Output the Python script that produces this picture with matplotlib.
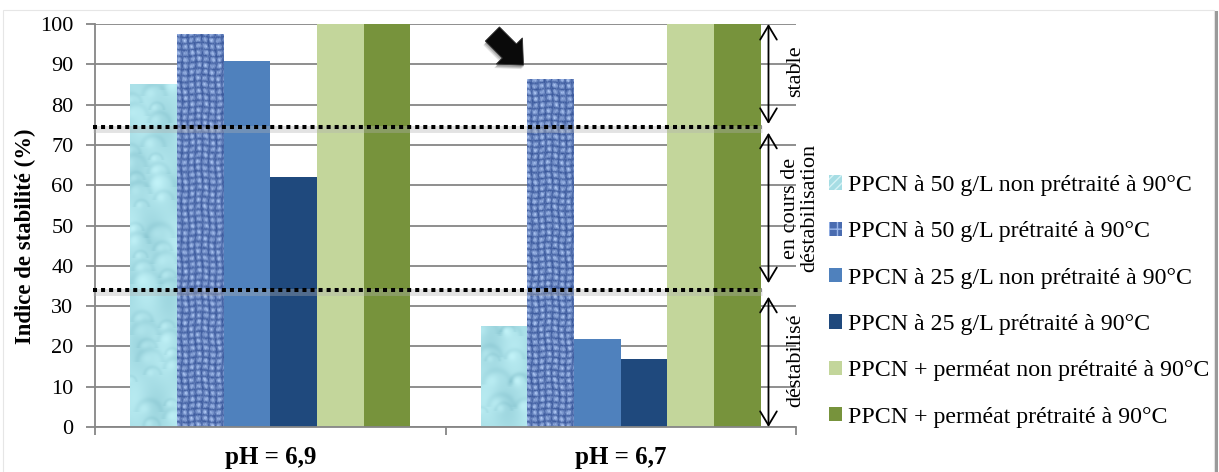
import numpy as np
import matplotlib
matplotlib.use("Agg")
import matplotlib.pyplot as plt
from matplotlib.patches import Patch, FancyArrowPatch, Rectangle, Polygon
from matplotlib.transforms import IdentityTransform
from matplotlib import patheffects as pe

plt.rcParams['font.family'] = ['Liberation Serif', 'DejaVu Serif']

# ---- data ----
groups = ["pH = 6,9", "pH = 6,7"]
series = [
    "PPCN à 50 g/L non prétraité à 90°C",
    "PPCN à 50 g/L prétraité à 90°C",
    "PPCN à 25 g/L non prétraité à 90°C",
    "PPCN à 25 g/L prétraité à 90°C",
    "PPCN + perméat non prétraité à 90°C",
    "PPCN + perméat prétraité à 90°C",
]
values_ph69 = [85.0, 97.6, 90.9, 62.1, 100.0, 100.0]
values_ph67 = [25.1, 86.3, 21.8, 16.9, 100.0, 100.0]
thresholds = [74.4, 34.0]
zones = [("stable", 100.0, 75.2), ("en cours de\ndéstabilisation", 73.0, 35.7),
         ("déstabilisé", 32.3, 0.0)]

colors = ["#a6dde4", "#4a6cb0", "#4f81bd", "#1f497d", "#c3d69b", "#77933c"]
GRID = "#868686"
FS = 16

values = np.array([values_ph69, values_ph67])


def weave_texture(h, w):
    """Woven canvas look, built from crossing sine threads."""
    i = np.arange(h)[:, None].astype(float)
    j = np.arange(w)[None, :].astype(float)
    hor = 0.5 + 0.5 * np.sin(2 * np.pi * i / 6.4 + 0.7 * np.sin(j * 0.21))
    ver = 0.5 + 0.5 * np.sin(2 * np.pi * j / 6.8 + 0.8 + 0.6 * np.sin(i * 0.15))
    cells = np.sqrt(hor * ver)
    slub = 0.5 + 0.5 * np.sin(i * 0.29 + j * 0.83) * np.sin(i * 0.071 - j * 0.41)
    fleck = (0.5 + 0.5 * np.sin(i * 1.3 + 2.1 * np.sin(j * 0.7)) * np.cos(j * 1.9 + i * 0.21)) ** 3
    t = 0.12 + 0.5 * cells + 0.3 * slub * (0.4 + 0.6 * cells) + 0.18 * fleck
    t = np.clip(t, 0, 1)
    dark = np.array([0.15, 0.27, 0.55])
    light = np.array([0.70, 0.80, 0.97])
    return dark + (light - dark) * t[..., None]


def bubble_texture(h, w):
    """Pale aqua surface with soft droplets."""
    yy, xx = np.mgrid[0:h, 0:w].astype(float)
    base = np.array([0.67, 0.88, 0.91])
    shade = 0.025 * np.sin(xx * 0.15 + yy * 0.04) + 0.02 * np.sin(yy * 0.07 - xx * 0.11)
    n = int(h * w / 420) + 2
    for k in range(n):
        cx = ((k * 0.6180339) % 1.0) * w
        cy = ((k * 0.7548776 + 0.13) % 1.0) * h
        r = 6.0 + 8.0 * ((k * 0.5698403) % 1.0)
        d = np.hypot(xx - cx, yy - cy) / r
        rim = np.exp(-((d - 1.0) ** 2) / 0.06) * (0.5 + 0.5 * np.sign(yy - cy))
        core = np.exp(-((xx - cx + 0.3 * r) ** 2 + (yy - cy - 0.3 * r) ** 2) / (0.2 * r * r))
        shade += -0.04 * rim + 0.045 * core
    img = base[None, None, :] + shade[..., None] * np.array([1.0, 0.8, 0.7])
    return np.clip(img, 0, 1)


fig = plt.figure(figsize=(12.19, 4.72), dpi=100)
ax = fig.add_axes([95 / 1219, 1 - 427 / 472, (796 - 95) / 1219, (427 - 24) / 472])

n_series = len(series)
width = 0.8 / n_series
x = np.arange(len(groups))
px_per_y = 403 / 100.0
px_per_x = 701 / 2.0

bars = []
for k in range(n_series):
    b = ax.bar(x + (k - (n_series - 1) / 2) * width, values[:, k], width,
               color=colors[k], linewidth=0, zorder=2)
    bars.append(b)

# textured fills for the first two series
for k, maker in ((0, bubble_texture), (1, weave_texture)):
    for rect in bars[k]:
        x0 = rect.get_x()
        x1 = x0 + rect.get_width()
        hgt = rect.get_height()
        hp = max(int(round(hgt * px_per_y)), 2)
        wp = max(int(round(rect.get_width() * px_per_x)), 2)
        tex = maker(hp, wp)
        im = ax.imshow(tex, extent=(x0, x1, 0, hgt), origin='lower', aspect='auto',
                       interpolation='bilinear', zorder=2.5)
        im.set_clip_path(rect)

ax.set_xlim(-0.5, 1.5)
ax.set_ylim(0, 100)
ax.set_aspect('auto')

# axes styling
ax.set_axisbelow(True)
ax.yaxis.grid(True, color=GRID, linewidth=1.3)
for s in ("top", "right"):
    ax.spines[s].set_visible(False)
for s in ("left", "bottom"):
    ax.spines[s].set_color(GRID)
    ax.spines[s].set_linewidth(1.3)
ax.set_yticks(np.arange(0, 101, 10))
ax.tick_params(axis='y', length=6.5, width=1.3, color=GRID, labelsize=FS, pad=9)
ax.set_xticks([-0.5, 0.5, 1.5])
ax.set_xticklabels([])
ax.tick_params(axis='x', which='major', length=6, width=1.3, color=GRID)
ax.set_xticks(x, minor=True)
ax.set_xticklabels(groups, minor=True, fontsize=18, fontweight='bold')
ax.tick_params(axis='x', which='minor', length=0, pad=14)

fig.text(25 / 1219, 1 - 236 / 472, "Indice de stabilité (%)", rotation=90,
         ha='center', va='center', fontsize=16.4, fontweight='bold')

# threshold lines
x_line_end = 1.404
for yv in thresholds:
    ax.plot([-0.505, x_line_end], [yv, yv], color='#b0b0b0', lw=5, alpha=0.35,
            solid_capstyle='butt', zorder=3.5, clip_on=False,
            path_effects=[pe.Stroke(offset=(0, -1.5))])
    ax.plot([-0.505, x_line_end], [yv, yv], color='black', lw=2.9,
            linestyle=(0, (1, 1)), dash_capstyle='butt', zorder=4, clip_on=False)

# zone arrows and labels
x_arr = 1.4215
for label, ytop, ybot in zones:
    arr = FancyArrowPatch((x_arr, ybot), (x_arr, ytop),
                          arrowstyle='<->,head_length=10,head_width=6',
                          mutation_scale=1, lw=1.3, color='black', zorder=5,
                          shrinkA=0, shrinkB=0, clip_on=False)
    ax.add_patch(arr)
ax.text(1.498, (100 + 75.2) / 2 + 0.8, zones[0][0], rotation=90, ha='center',
        va='center', fontsize=FS, clip_on=False)
ax.text(1.512, (73.0 + 35.7) / 2, zones[1][0], rotation=90, ha='center',
        va='center', fontsize=FS, linespacing=1.05, multialignment='center',
        clip_on=False)
ax.text(1.498, (32.3 + 0.0) / 2 + 0.3, zones[2][0], rotation=90, ha='center',
        va='center', fontsize=FS, clip_on=False)

# block pointer toward the pretreated 50 g/L bar at pH 6.7 (shape in pixels)
tip = ax.transData.transform((0.7225, 89.8))
shape = np.array([(0, -10), (24, -10), (24, -18.5), (44, 0),
                  (24, 18.5), (24, 10), (0, 10)], dtype=float)
u = np.array([1.0, -1.0]) / np.sqrt(2.0)   # pointing down-right on screen
v = np.array([u[1], -u[0]])
pts = tip + (shape[:, 0:1] - 44.0) * u + shape[:, 1:2] * v
for dx, dy, a in ((-2, -4, 0.18), (-1, -3, 0.25), (0, -2, 0.3)):
    fig.add_artist(Polygon(pts + np.array([dx, dy]), closed=True, transform=IdentityTransform(),
                           facecolor='#555555', edgecolor='none', alpha=a, zorder=5))
fig.add_artist(Polygon(pts, closed=True, transform=IdentityTransform(),
                       facecolor='#0a0a0a', edgecolor='#333333', lw=0.6, zorder=6))

# legend
handles = [
    Patch(facecolor="#a6dde4", edgecolor="#d6f2f5", hatch='////', linewidth=0),
    Patch(facecolor="#4a6cb0", edgecolor="#9ab6ea", hatch='++', linewidth=0),
] + [Patch(facecolor=c, linewidth=0) for c in colors[2:]]
fig.legend(handles, series, loc='upper left', bbox_to_anchor=(829 / 1219, 1 - 175 / 472),
           frameon=False, fontsize=17.2, handlelength=0.56, handleheight=0.56,
           handletextpad=0.25, labelspacing=1.06, borderpad=0, borderaxespad=0)

# outer frame with a soft shadow on the right
fig.add_artist(Rectangle((3 / 1219, -0.02), 1211 / 1219, 1 - 10 / 472 + 0.02,
                         transform=fig.transFigure, fill=False, edgecolor='#e6e6e6',
                         lw=0.8, zorder=0))
fig.add_artist(plt.Line2D([1216 / 1219, 1216 / 1219], [0, 1 - 12 / 472],
                          transform=fig.transFigure, color='#9a9a9a', lw=2.2))

fig.savefig("out.png", dpi=100, facecolor='white')
